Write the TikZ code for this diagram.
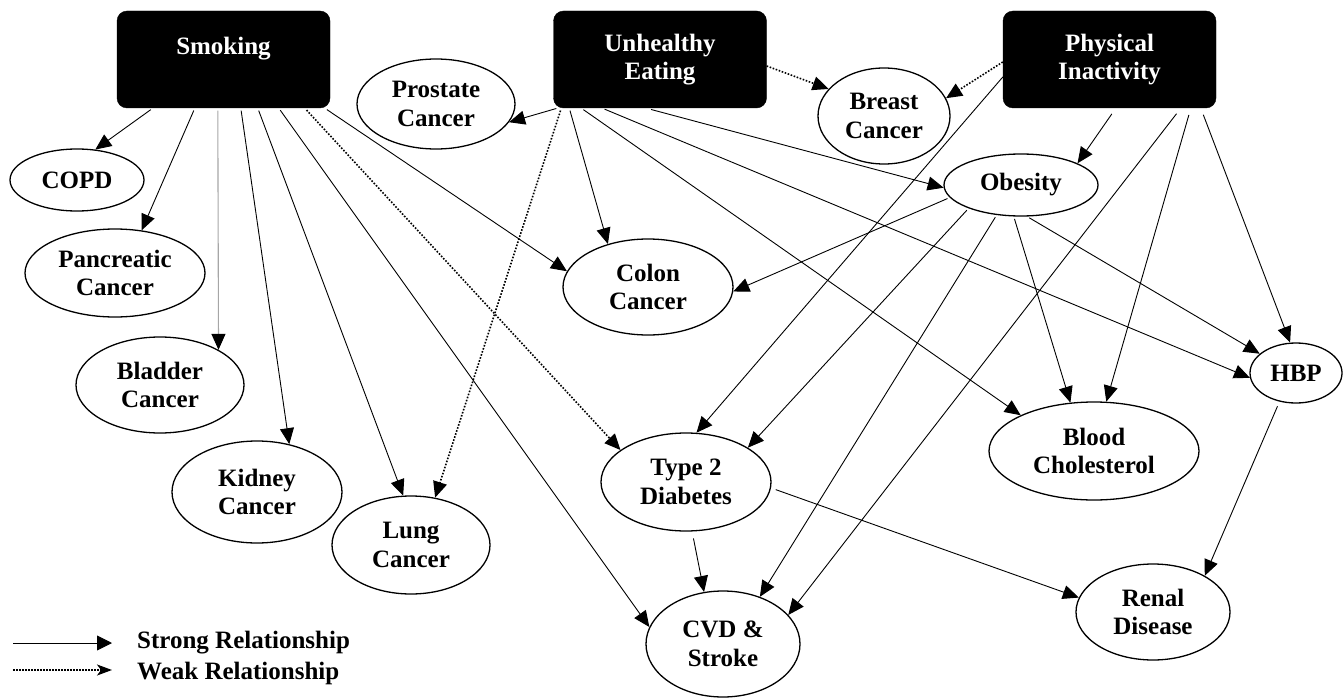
\documentclass[tikz,border=0pt]{standalone}
\usepackage{fontspec}
\setmainfont{Liberation Serif}
\usetikzlibrary{shapes.geometric,arrows.meta}
\tikzset{
  risk/.style={draw=black, fill=black, rounded corners=10pt, text=white, minimum width=213pt, minimum height=97pt, align=center, inner sep=0pt, font=\fontsize{25}{28}\selectfont\bfseries},
  dis/.style={draw, ellipse, line width=1.3pt, align=center, inner sep=0pt, font=\fontsize{25}{28.5}\selectfont\bfseries},
  leg/.style={anchor=west, inner sep=0pt, font=\fontsize{25}{28}\selectfont\bfseries},
  strong/.style={line width=0.9pt, shorten <=2.5pt, -{Triangle[length=16pt,width=14pt,color=black]}},
  weak/.style={line width=1.6pt, dash pattern=on 1.6pt off 1.6pt, -{Triangle[length=16pt,width=14pt]}},
}
\begin{document}
\begin{tikzpicture}[x=1pt,y=-1pt]
\useasboundingbox (0,0) rectangle (1343,698);
% risk factors
\node[risk] (smoking) at (223.5,59.5) {Smoking\\\mbox{}};
\node[risk] (eating) at (660,59.5) {Unhealthy\\Eating};
\node[risk] (inact) at (1109.5,59.5) {Physical\\Inactivity};
% diseases
\node[dis, minimum width=134pt, minimum height=62pt] (copd) at (77,180) {COPD};
\node[dis, minimum width=158pt, minimum height=90pt] (prostate) at (436,104) {Prostate\\Cancer};
\node[dis, minimum width=132pt, minimum height=96pt] (breast) at (884,116) {Breast\\Cancer};
\node[dis, minimum width=154pt, minimum height=62pt] (obesity) at (1021,185) {Obesity};
\node[dis, minimum width=180pt, minimum height=88pt] (pancreatic) at (115,273) {Pancreatic\\Cancer};
\node[dis, minimum width=168pt, minimum height=96pt] (bladder) at (160,385) {Bladder\\Cancer};
\node[dis, minimum width=170pt, minimum height=102pt] (kidney) at (257,492) {Kidney\\Cancer};
\node[dis, minimum width=158pt, minimum height=98pt] (lung) at (411,545) {Lung\\Cancer};
\node[dis, minimum width=170pt, minimum height=96pt] (colon) at (648,287) {Colon\\Cancer};
\node[dis, minimum width=170pt, minimum height=98pt] (diabetes) at (686,482) {Type 2\\Diabetes};
\node[dis, minimum width=154pt, minimum height=106pt] (cvd) at (723,644) {CVD \&\\Stroke};
\node[dis, minimum width=210pt, minimum height=98pt] (chol) at (1094,451) {Blood\\Cholesterol};
\node[dis, minimum width=92pt, minimum height=60pt] (hbp) at (1296,373) {HBP};
\node[dis, minimum width=154pt, minimum height=96pt] (renal) at (1153,612) {Renal\\Disease};
% smoking edges
\draw[strong] ([xshift=36pt]smoking.south west) -- (copd.59);
\draw[strong] ([xshift=78pt]smoking.south west) -- (pancreatic.58);
\draw[strong, draw=gray!70, line width=1.1pt] ([xshift=101pt]smoking.south west) -- (bladder.31);
\draw[strong] ([xshift=124pt]smoking.south west) -- (kidney.56);
\draw[strong] ([xshift=141pt]smoking.south west) -- (lung.99);
\draw[strong] ([xshift=162pt]smoking.south west) -- (cvd.167);
\draw[weak, shorten <=2.5pt] ([xshift=188pt]smoking.south west) -- (diabetes.154);
\draw[strong] ([xshift=208pt]smoking.south west) -- (colon.169);
% unhealthy eating edges
\draw[strong, shorten <=1pt] ([xshift=4pt]eating.south west) -- (prostate.346);
\draw[weak, shorten <=2.5pt] ([xshift=8pt]eating.south west) -- (lung.63);
\draw[strong] ([xshift=16pt]eating.south west) -- (colon.133);
\draw[strong] ([xshift=28pt]eating.south west) -- (chol.154);
\draw[strong] ([xshift=49pt]eating.south west) -- (hbp.186);
\draw[strong, shorten <=5pt] ([xshift=93pt]eating.south west) -- (obesity.182);
\draw[weak] ([yshift=-6.5pt]eating.east) -- (breast.154);
% physical inactivity edges
\draw[weak] ([yshift=-2.5pt]inact.west) -- (breast.16);
\draw[strong, shorten <=0pt] ([yshift=-17.5pt]inact.west) -- (diabetes.78);
\draw[strong, shorten <=7pt] ([xshift=113pt]inact.south west) -- (obesity.21);
\draw[strong, shorten <=7pt] ([xshift=178pt]inact.south west) -- (cvd.24);
\draw[strong, shorten <=7pt] ([xshift=188pt]inact.south west) -- (chol.76);
\draw[strong, shorten <=7pt] ([xshift=198pt]inact.south west) -- (hbp.101);
% obesity edges
\draw[strong] (obesity.190) -- (colon.357);
\draw[strong] (obesity.204) -- (diabetes.29);
\draw[strong] (obesity.231) -- (cvd.52);
\draw[strong] (obesity.257) -- (chol.116);
\draw[strong] (obesity.281) -- (hbp.152);
% diabetes and hbp edges
\draw[strong, shorten <=7pt] (diabetes.277) -- (cvd.110);
\draw[strong, shorten <=5pt] (diabetes.356) -- (renal.169);
\draw[strong, shorten <=5pt] (hbp.240) -- (renal.35);
% legend
\coordinate (ls1) at (13,643);
\coordinate (ls2) at (112,643);
\coordinate (lw1) at (13,670);
\coordinate (lw2) at (112,670);
\draw[line width=0.9pt, -{Triangle[length=15pt,width=15pt]}] (ls1) -- (ls2);
\draw[line width=1.5pt, dash pattern=on 1.5pt off 1.5pt, -{Stealth[length=15pt,width=11pt,inset=4pt]}] (lw1) -- (lw2);
\node[leg] (strongtext) at (137,643) {Strong Relationship};
\node[leg] (weaktext) at (137,673) {Weak Relationship};
\end{tikzpicture}
\end{document}
